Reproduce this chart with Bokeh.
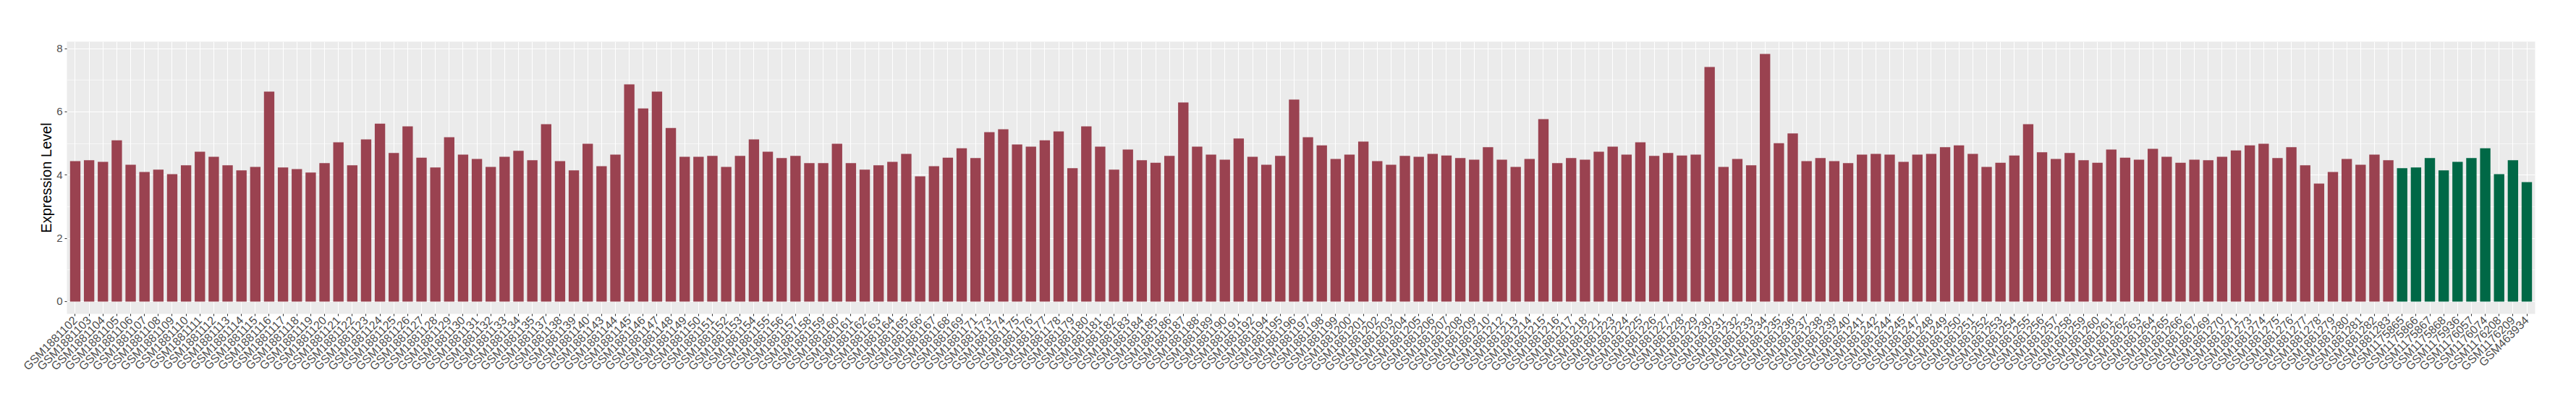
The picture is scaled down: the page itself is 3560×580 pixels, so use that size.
from math import pi
from bokeh.plotting import figure
from bokeh.models import FactorRange, Range1d, FixedTicker, ColumnDataSource
from bokeh.embed import file_html
from bokeh.resources import INLINE

# ---------------- data ----------------
tumor_samples = [
    "GSM1881102", "GSM1881103", "GSM1881104", "GSM1881105", "GSM1881106",
    "GSM1881107", "GSM1881108", "GSM1881109", "GSM1881110", "GSM1881111",
    "GSM1881112", "GSM1881113", "GSM1881114", "GSM1881115", "GSM1881116",
    "GSM1881117", "GSM1881118", "GSM1881119", "GSM1881120", "GSM1881121",
    "GSM1881122", "GSM1881123", "GSM1881124", "GSM1881125", "GSM1881126",
    "GSM1881127", "GSM1881128", "GSM1881129", "GSM1881130", "GSM1881131",
    "GSM1881132", "GSM1881133", "GSM1881134", "GSM1881135", "GSM1881137",
    "GSM1881138", "GSM1881139", "GSM1881140", "GSM1881143", "GSM1881144",
    "GSM1881145", "GSM1881146", "GSM1881147", "GSM1881148", "GSM1881149",
    "GSM1881150", "GSM1881151", "GSM1881152", "GSM1881153", "GSM1881154",
    "GSM1881155", "GSM1881156", "GSM1881157", "GSM1881158", "GSM1881159",
    "GSM1881160", "GSM1881161", "GSM1881162", "GSM1881163", "GSM1881164",
    "GSM1881165", "GSM1881166", "GSM1881167", "GSM1881168", "GSM1881169",
    "GSM1881171", "GSM1881173", "GSM1881174", "GSM1881175", "GSM1881176",
    "GSM1881177", "GSM1881178", "GSM1881179", "GSM1881180", "GSM1881181",
    "GSM1881182", "GSM1881183", "GSM1881184", "GSM1881185", "GSM1881186",
    "GSM1881187", "GSM1881188", "GSM1881189", "GSM1881190", "GSM1881191",
    "GSM1881192", "GSM1881194", "GSM1881195", "GSM1881196", "GSM1881197",
    "GSM1881198", "GSM1881199", "GSM1881200", "GSM1881201", "GSM1881202",
    "GSM1881203", "GSM1881204", "GSM1881205", "GSM1881206", "GSM1881207",
    "GSM1881208", "GSM1881209", "GSM1881210", "GSM1881212", "GSM1881213",
    "GSM1881214", "GSM1881215", "GSM1881216", "GSM1881217", "GSM1881218",
    "GSM1881221", "GSM1881223", "GSM1881224", "GSM1881225", "GSM1881226",
    "GSM1881227", "GSM1881228", "GSM1881229", "GSM1881230", "GSM1881231",
    "GSM1881232", "GSM1881233", "GSM1881234", "GSM1881235", "GSM1881236",
    "GSM1881237", "GSM1881238", "GSM1881239", "GSM1881240", "GSM1881241",
    "GSM1881242", "GSM1881244", "GSM1881245", "GSM1881247", "GSM1881248",
    "GSM1881249", "GSM1881250", "GSM1881251", "GSM1881252", "GSM1881253",
    "GSM1881254", "GSM1881255", "GSM1881256", "GSM1881257", "GSM1881258",
    "GSM1881259", "GSM1881260", "GSM1881261", "GSM1881262", "GSM1881263",
    "GSM1881264", "GSM1881265", "GSM1881266", "GSM1881267", "GSM1881269",
    "GSM1881270", "GSM1881271", "GSM1881273", "GSM1881274", "GSM1881275",
    "GSM1881276", "GSM1881277", "GSM1881278", "GSM1881279", "GSM1881280",
    "GSM1881281", "GSM1881282", "GSM1881283",
]
tumor_values = [
    4.44, 4.47, 4.42, 5.10, 4.33,
    4.10, 4.17, 4.03, 4.31, 4.74,
    4.58, 4.31, 4.15, 4.26, 6.64,
    4.24, 4.19, 4.08, 4.38, 5.04,
    4.31, 5.13, 5.63, 4.70, 5.54,
    4.55, 4.24, 5.20, 4.65, 4.51,
    4.26, 4.58, 4.77, 4.47, 5.61,
    4.44, 4.15, 4.99, 4.28, 4.65,
    6.87, 6.11, 6.64, 5.49, 4.58,
    4.58, 4.61, 4.26, 4.61, 5.13,
    4.74, 4.54, 4.61, 4.38, 4.38,
    4.99, 4.38, 4.17, 4.31, 4.42,
    4.67, 3.96, 4.28, 4.55, 4.85,
    4.54, 5.36, 5.45, 4.97, 4.90,
    5.10, 5.38, 4.22, 5.54, 4.90,
    4.17, 4.81, 4.47, 4.39, 4.61,
    6.30, 4.90, 4.65, 4.49, 5.16,
    4.58, 4.33, 4.61, 6.39, 5.20,
    4.94, 4.51, 4.65, 5.06, 4.44,
    4.33, 4.61, 4.58, 4.67, 4.62,
    4.54, 4.49, 4.88, 4.49, 4.26,
    4.51, 5.77, 4.38, 4.54, 4.49,
    4.74, 4.90, 4.65, 5.04, 4.61,
    4.70, 4.62, 4.65, 7.42, 4.26,
    4.51, 4.31, 7.83, 5.01, 5.32,
    4.44, 4.54, 4.44, 4.38, 4.65,
    4.67, 4.65, 4.42, 4.65, 4.67,
    4.88, 4.94, 4.67, 4.26, 4.39,
    4.62, 5.61, 4.72, 4.51, 4.70,
    4.47, 4.39, 4.81, 4.55, 4.49,
    4.83, 4.58, 4.39, 4.49, 4.47,
    4.58, 4.78, 4.94, 4.99, 4.54,
    4.88, 4.31, 3.73, 4.10, 4.51,
    4.33, 4.65, 4.47,
]
normal_samples = [
    "GSM1175865", "GSM1175866", "GSM1175867", "GSM1175868", "GSM1175936",
    "GSM1176057", "GSM1176074", "GSM1176208", "GSM1176209", "GSM463934",
]
normal_values = [4.22, 4.24, 4.54, 4.15, 4.42, 4.54, 4.85, 4.03, 4.47, 3.78]

y_ticks = [0, 2, 4, 6, 8]
y_minor = [1, 3, 5, 7]
y_title = "Expression Level"

# ---------------- figure ----------------
factors = tumor_samples + normal_samples
ymax = max(tumor_values + normal_values)
pad = 0.05 * ymax

p = figure(
    width=3560, height=580,
    x_range=FactorRange(factors=factors, range_padding=0.1,
                        range_padding_units="absolute"),
    y_range=Range1d(-pad, ymax + pad),
    output_backend="svg", toolbar_location=None,
    min_border_left=92, min_border_right=57,
    min_border_top=57, min_border_bottom=147,
)
p.background_fill_color = "#EBEBEB"
p.border_fill_color = "white"
p.outline_line_color = None

src_t = ColumnDataSource(dict(x=tumor_samples, top=tumor_values))
src_n = ColumnDataSource(dict(x=normal_samples, top=normal_values))
p.vbar(x="x", top="top", bottom=0, width=0.75, source=src_t,
       fill_color="#9A4250", line_color=None)
p.vbar(x="x", top="top", bottom=0, width=0.75, source=src_n,
       fill_color="#006846", line_color=None)

# grids
p.xgrid.grid_line_color = "white"
p.xgrid.grid_line_width = 1.1
p.ygrid.grid_line_color = "white"
p.ygrid.grid_line_width = 1.1
p.ygrid.minor_grid_line_color = "white"
p.ygrid.minor_grid_line_width = 0.55

# axes
p.yaxis.ticker = FixedTicker(ticks=y_ticks, minor_ticks=y_minor)
for ax in (p.xaxis[0], p.yaxis[0]):
    ax.axis_line_color = None
    ax.major_tick_line_color = "#333333"
    ax.major_tick_line_width = 1.1
    ax.major_tick_out = 3
    ax.major_tick_in = 0
    ax.minor_tick_line_color = None
    ax.major_label_text_color = "#4D4D4D"
    ax.major_label_text_font = "Liberation Sans"

p.yaxis.major_label_text_font_size = "15px"
p.yaxis.major_label_standoff = 2
p.yaxis.axis_label = y_title
p.yaxis.axis_label_text_font = "Liberation Sans"
p.yaxis.axis_label_text_font_size = "20px"
p.yaxis.axis_label_text_font_style = "normal"
p.yaxis.axis_label_text_color = "black"
p.yaxis.axis_label_standoff = 0

p.xaxis.major_label_text_font_size = "16px"
p.xaxis.major_label_orientation = pi / 4
p.xaxis.major_label_standoff = 3

open("out.html", "w").write(file_html(p, INLINE))
